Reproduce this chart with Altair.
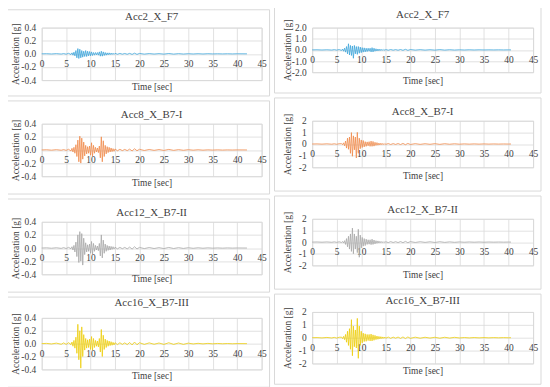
import altair as alt
import pandas as pd

# ---------------- data ----------------
T_LEFT = [0, 1, 2, 3, 4, 4.5, 5, 5.5,
          6.0, 6.2, 6.4, 6.6, 6.8, 7.0, 7.2, 7.4, 7.6, 7.8,
          8.0, 8.2, 8.4, 8.6, 8.8, 9.0, 9.2, 9.4, 9.6, 9.8,
          10.0, 10.2, 10.4, 10.6, 10.8, 11.0, 11.2, 11.4, 11.6, 11.8,
          12.0, 12.2, 12.4, 12.6, 12.8, 13.0, 13.2, 13.4, 13.6, 13.8,
          14.0, 14.2, 14.4, 14.6, 14.8, 15.0,
          15.5, 16, 16.5, 17, 17.5, 18, 18.5, 19, 19.5, 20,
          21, 22, 23, 24, 25, 26, 27, 28, 29, 30,
          31, 32, 33, 34, 35, 36, 37, 38, 39, 40, 42]
T_RIGHT = T_LEFT[:-1] + [40.5]

# Left column (scale +-0.4 g)
ACC2_L = [0, 0.002, -0.002, 0.003, -0.003, 0.004, -0.005, 0.008,
          -0.01, 0.015, -0.02, 0.025, -0.03, 0.05, -0.06, 0.08, -0.07, 0.07,
          -0.06, 0.05, -0.05, 0.04, -0.04, 0.05, -0.04, 0.04, -0.03, 0.035,
          -0.03, 0.03, -0.025, 0.02, -0.02, 0.02, -0.015, 0.02, -0.02, 0.03,
          -0.035, 0.04, -0.035, 0.03, -0.025, 0.02, -0.02, 0.015, -0.015, 0.015,
          -0.012, 0.012, -0.01, 0.01, -0.008, 0.008,
          -0.006, 0.006, -0.005, 0.005, -0.006, 0.007, -0.008, 0.01, -0.008, 0.006,
          -0.004, 0.004, -0.003, 0.003, -0.004, 0.005, -0.004, 0.003, -0.003, 0.002,
          -0.002, 0.002, -0.002, 0.002, -0.001, 0.001, -0.001, 0.001, -0.001, 0.001, 0]
ACC8_L = [0, 0.003, -0.003, 0.004, -0.004, 0.005, -0.006, 0.01,
          -0.015, 0.025, -0.03, 0.04, -0.05, 0.08, -0.1, 0.15, -0.18, 0.21,
          -0.2, 0.18, -0.14, 0.12, -0.09, 0.07, -0.06, 0.05, -0.05, 0.06,
          -0.08, 0.11, -0.09, 0.07, -0.05, 0.04, -0.03, 0.03, -0.04, 0.06,
          -0.12, 0.2, -0.18, 0.14, -0.1, 0.07, -0.06, 0.05, -0.04, 0.04,
          -0.03, 0.03, -0.025, 0.02, -0.02, 0.015,
          -0.012, 0.01, -0.01, 0.008, -0.01, 0.012, -0.015, 0.018, -0.012, 0.01,
          -0.008, 0.007, -0.006, 0.006, -0.007, 0.008, -0.006, 0.005, -0.005, 0.004,
          -0.003, 0.003, -0.003, 0.002, -0.002, 0.002, -0.002, 0.001, -0.001, 0.001, 0]
ACC12_L = [0, 0.003, -0.003, 0.004, -0.005, 0.006, -0.007, 0.01,
           -0.01, 0.02, -0.03, 0.04, -0.06, 0.09, -0.13, 0.2, -0.22, 0.25,
           -0.2, 0.22, -0.26, 0.15, -0.1, 0.08, -0.06, 0.05, -0.05, 0.06,
           -0.08, 0.1, -0.09, 0.07, -0.05, 0.04, -0.03, 0.03, -0.04, 0.07,
           -0.12, 0.2, -0.15, 0.12, -0.08, 0.06, -0.05, 0.04, -0.035, 0.03,
           -0.03, 0.025, -0.02, 0.02, -0.015, 0.012,
           -0.012, 0.01, -0.01, 0.01, -0.012, 0.014, -0.016, 0.02, -0.014, 0.01,
           -0.008, 0.008, -0.007, 0.006, -0.008, 0.009, -0.007, 0.006, -0.006, 0.005,
           -0.004, 0.004, -0.003, 0.003, -0.002, 0.002, -0.002, 0.002, -0.001, 0.001, 0]
ACC16_L = [0, 0.004, -0.005, 0.008, -0.01, 0.012, -0.012, 0.015,
           -0.015, 0.025, -0.04, 0.05, -0.07, 0.1, -0.15, 0.3, -0.25, 0.2,
           -0.38, 0.26, -0.2, 0.14, -0.1, 0.08, -0.07, 0.06, -0.06, 0.07,
           -0.09, 0.11, -0.1, 0.08, -0.06, 0.05, -0.04, 0.04, -0.05, 0.08,
           -0.13, 0.22, -0.2, 0.13, -0.09, 0.07, -0.06, 0.05, -0.04, 0.04,
           -0.03, 0.03, -0.025, 0.02, -0.02, 0.015,
           -0.015, 0.014, -0.012, 0.012, -0.015, 0.018, -0.02, 0.025, -0.018, 0.015,
           -0.012, 0.012, -0.01, 0.01, -0.012, 0.014, -0.012, 0.01, -0.012, 0.008,
           -0.005, 0.005, -0.004, 0.004, -0.003, 0.003, -0.002, 0.002, -0.002, 0.001, 0]

# Right column (scale +-2 g)
ACC2_R = [0, 0.01, -0.01, 0.01, -0.015, 0.02, -0.02, 0.03,
          -0.05, 0.08, -0.12, 0.15, -0.2, 0.3, -0.35, 0.55, -0.45, 0.4,
          -0.5, 0.35, -0.75, 0.4, -0.35, 0.3, -0.4, 0.3, -0.3, 0.25,
          -0.25, 0.2, -0.2, 0.18, -0.18, 0.15, -0.15, 0.15, -0.12, 0.15,
          -0.18, 0.2, -0.18, 0.15, -0.12, 0.1, -0.1, 0.08, -0.08, 0.07,
          -0.06, 0.05, -0.05, 0.04, -0.04, 0.03,
          -0.03, 0.03, -0.025, 0.025, -0.03, 0.035, -0.04, 0.05, -0.04, 0.03,
          -0.02, 0.02, -0.02, 0.015, -0.02, 0.025, -0.02, 0.015, -0.015, 0.01,
          -0.01, 0.01, -0.008, 0.008, -0.006, 0.006, -0.005, 0.005, -0.004, 0.004, 0]
ACC8_R = [0, 0.01, -0.01, 0.015, -0.015, 0.02, -0.02, 0.025,
          0.03, -0.06, 0.1, -0.15, 0.25, -0.35, 0.5, -0.45, 0.6, -0.8,
          0.98, -1.05, 0.7, -0.5, 0.6, -1.2, 1.0, -0.8, 0.5, -0.4,
          0.35, -0.3, 0.3, -0.25, 0.2, -0.2, 0.18, -0.15, 0.2, -0.2,
          0.25, -0.2, 0.22, -0.18, 0.15, -0.12, 0.12, -0.1, 0.08, -0.08,
          0.07, -0.06, 0.05, -0.05, 0.04, -0.03,
          0.04, -0.04, 0.035, -0.035, 0.04, -0.045, 0.05, -0.06, 0.05, -0.04,
          0.03, -0.03, 0.025, -0.025, 0.03, -0.03, 0.025, -0.02, 0.02, -0.015,
          0.012, -0.012, 0.01, -0.01, 0.008, -0.008, 0.006, -0.006, 0.005, -0.004, 0]
ACC12_R = [0, 0.01, -0.01, 0.015, -0.015, 0.02, -0.02, 0.025,
           -0.03, 0.05, -0.08, 0.12, -0.2, 0.3, -0.4, 0.5, -0.6, 0.7,
           -0.8, 1.2, -1.0, 0.7, -0.6, 0.5, -0.9, 1.1, -1.3, 0.6,
           -0.5, 0.4, -0.35, 0.3, -0.3, 0.25, -0.2, 0.2, -0.18, 0.2,
           -0.22, 0.25, -0.2, 0.18, -0.15, 0.12, -0.1, 0.1, -0.08, 0.07,
           -0.06, 0.05, -0.05, 0.04, -0.03, 0.03,
           -0.04, 0.04, -0.035, 0.035, -0.04, 0.045, -0.05, 0.06, -0.05, 0.04,
           -0.03, 0.03, -0.025, 0.025, -0.03, 0.03, -0.025, 0.02, -0.02, 0.015,
           -0.012, 0.012, -0.01, 0.01, -0.008, 0.008, -0.006, 0.006, -0.005, 0.004, 0]
ACC16_R = [0, 0.01, -0.015, 0.02, -0.02, 0.025, -0.03, 0.035,
           0.04, -0.07, 0.1, -0.15, 0.25, -0.35, 0.5, -0.6, 0.7, -0.9,
           1.4, -1.4, 0.9, -0.7, 0.6, -0.8, 1.5, -1.6, 0.9, -0.6,
           0.5, -0.4, 0.35, -0.3, 0.3, -0.28, 0.25, -0.22, 0.25, -0.25,
           0.28, -0.25, 0.22, -0.2, 0.18, -0.15, 0.13, -0.12, 0.1, -0.09,
           0.08, -0.07, 0.06, -0.05, 0.05, -0.04,
           0.05, -0.05, 0.045, -0.04, 0.05, -0.055, 0.06, -0.07, 0.06, -0.05,
           0.04, -0.04, 0.035, -0.03, 0.035, -0.04, 0.035, -0.03, 0.03, -0.02,
           0.015, -0.015, 0.012, -0.012, 0.01, -0.01, 0.008, -0.008, 0.006, -0.005, 0]

TITLES = ["Acc2_X_F7", "Acc8_X_B7-I", "Acc12_X_B7-II", "Acc16_X_B7-III"]
COLORS = ["#3DA5DA", "#F08A4B", "#A8A8A8", "#EDCD0C"]
X_TICKS = [0, 5, 10, 15, 20, 25, 30, 35, 40, 45]
Y_TICKS_L = [-0.4, -0.2, 0, 0.2, 0.4]
Y_TICKS_R = [-2, -1, 0, 1, 2]
X_TITLE = "Time [sec]"
Y_TITLE = "Acceleration [g]"

SERIES_L = [ACC2_L, ACC8_L, ACC12_L, ACC16_L]
SERIES_R = [ACC2_R, ACC8_R, ACC12_R, ACC16_R]

for s in SERIES_L:
    assert len(s) == len(T_LEFT), len(s)
for s in SERIES_R:
    assert len(s) == len(T_RIGHT), len(s)

# ---------------- layout (page pixels) ----------------
FONT = "Liberation Serif"
TXT = "#404040"
GRID = "#D9D9D9"
ROW_BOX = [(8, 95), (98, 192), (195, 289), (292, 383)]
# (plot top, plot height, title centre y, x-title centre y)
GEOM_L = [(26, 53, 15, 85), (121, 53, 112, 180), (218, 53, 209, 275.5), (313, 52, 298, 371)]
GEOM_R = [(29, 45, 16, 82), (121, 47, 112, 176), (218, 47, 209, 274), (310, 52, 298.5, 369)]
SIDE = {
    "L": dict(box_l=8, box_r=273, plot_l=43, w=222, ytitle_x=17),
    "R": dict(box_l=276, box_r=545, plot_l=314, w=223, ytitle_x=289),
}


def panel(row, side, times, values, color, ydom, yticks, yfmt):
    geom = GEOM_L if side == "L" else GEOM_R
    ptop, h, tcy, xtcy = geom[row]
    s = SIDE[side]
    btop, bbot = ROW_BOX[row]
    w = s["w"]
    df = pd.DataFrame({"t": times, "a": values})

    yaxis = dict(values=yticks, title=Y_TITLE, domain=False, ticks=False, tickSize=0,
                 grid=True, gridColor=GRID, gridWidth=0.8,
                 labelFont=FONT, labelFontSize=9.5, labelColor=TXT, labelPadding=6,
                 labelExpr="replace(datum.label, '\u2212', '-')",
                 titleFont=FONT, titleFontSize=9.5, titleFontWeight="normal", titleColor=TXT,
                 titleX=s["ytitle_x"] - s["plot_l"], titleY=h / 2, titleAngle=270,
                 titleAlign="center", titleBaseline="middle")
    if yfmt:
        yaxis["format"] = yfmt

    line = alt.Chart(df).mark_line(color=color, strokeWidth=0.8).encode(
        x=alt.X("t:Q", scale=alt.Scale(domain=[0, 45], nice=False, zero=False),
                axis=alt.Axis(values=X_TICKS, title=X_TITLE, domain=False, ticks=False, tickSize=0,
                              offset=-h / 2, grid=True, gridColor=GRID, gridWidth=0.8,
                              labelFont=FONT, labelFontSize=9.5, labelColor=TXT, labelPadding=5,
                              labelFlush=False,
                              titleFont=FONT, titleFontSize=9.5, titleFontWeight="normal",
                              titleColor=TXT, titleY=xtcy - (ptop + h / 2),
                              titleBaseline="middle")),
        y=alt.Y("a:Q", scale=alt.Scale(domain=ydom, nice=False, zero=False),
                axis=alt.Axis(**yaxis)),
    )
    box = alt.Chart(pd.DataFrame({"k": [0]})).mark_rect(
        fillOpacity=0, stroke=GRID, strokeWidth=1
    ).encode(
        x=alt.value(s["box_l"] - s["plot_l"]), x2=alt.value(s["box_r"] - s["plot_l"]),
        y=alt.value(btop - ptop), y2=alt.value(bbot - ptop),
    )
    title = alt.Chart(pd.DataFrame({"k": [0]})).mark_text(
        font=FONT, fontSize=11, color=TXT, align="center", baseline="middle"
    ).encode(
        x=alt.value(w / 2), y=alt.value(tcy - ptop), text=alt.value(TITLES[row])
    )
    return alt.layer(box, line, title).properties(width=w, height=h)


left = alt.vconcat(*[panel(i, "L", T_LEFT, SERIES_L[i], COLORS[i], [-0.4, 0.4], Y_TICKS_L, None)
                     for i in range(4)], spacing=3)
right = alt.vconcat(*[panel(i, "R", T_RIGHT, SERIES_R[i], COLORS[i], [-2, 2], Y_TICKS_R,
                            ".1f" if i == 0 else None) for i in range(4)], spacing=3)

chart = alt.hconcat(
    left, right, spacing=3,
    padding={"left": -2, "top": -4, "right": 0, "bottom": 0},
).configure_view(strokeWidth=0).configure_axis(
    labelFont=FONT, titleFont=FONT
).configure_text(font=FONT).configure(background="white")

chart.save("out.html", embed_options={"renderer": "svg", "actions": False})
